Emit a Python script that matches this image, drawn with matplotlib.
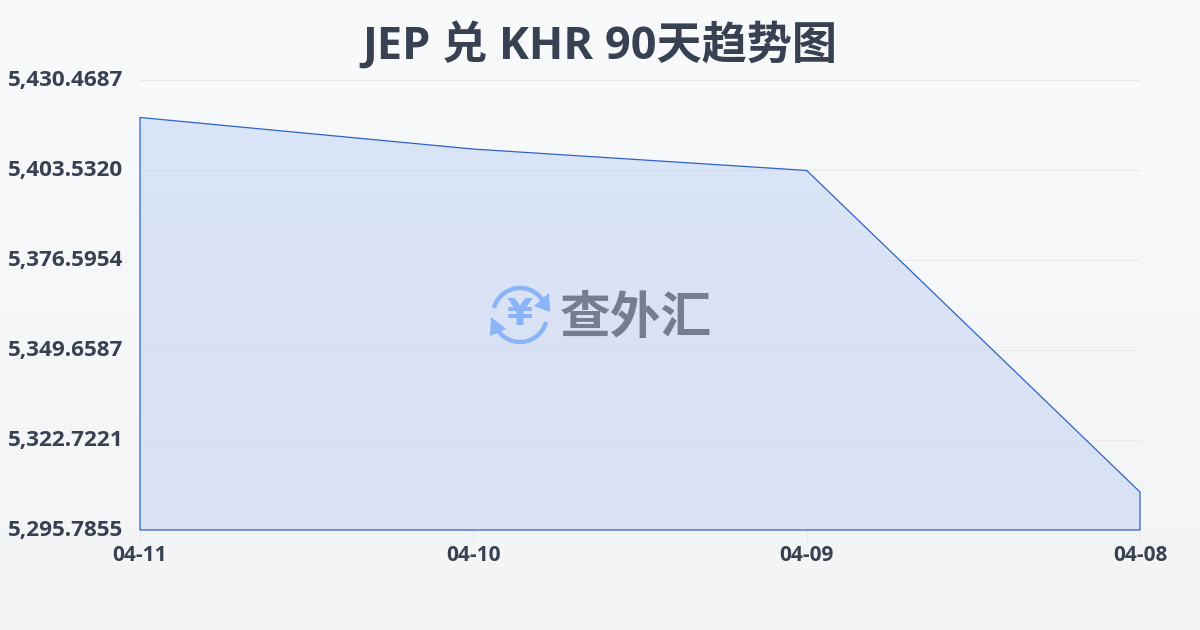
import matplotlib
matplotlib.use('Agg')
import matplotlib.pyplot as plt
import numpy as np
from matplotlib.patches import Arc, Polygon

plt.rcParams['font.family'] = ['Open Sans', 'Noto Sans CJK SC', 'DejaVu Sans']

dates = ['04-11', '04-10', '04-09', '04-08']
rates = [5419.25, 5409.80, 5403.40, 5307.15]
y_ticks = [5295.7855, 5322.7221, 5349.6587, 5376.5954, 5403.5320, 5430.4687]

text_col = '#374151'
line_col = '#2f62c8'
grid_col = '#e7e9ed'

fig = plt.figure(figsize=(12, 6.3), dpi=100)

# page background, light vertical gradient
bg = fig.add_axes([0, 0, 1, 1], zorder=0)
bg.imshow(np.linspace(0, 1, 256).reshape(-1, 1), aspect='auto', extent=[0, 1, 0, 1],
          cmap=matplotlib.colors.LinearSegmentedColormap.from_list('bg', ['#f9fafb', '#f3f4f6']))
bg.axis('off')

ax = fig.add_axes([140 / 1200, 1 - 530 / 630, 1000 / 1200, 450 / 630], zorder=1)
ax.patch.set_alpha(0)
x = np.arange(len(dates))
ax.set_xlim(0, len(dates) - 1)
ax.set_ylim(y_ticks[0], y_ticks[-1])

ax.set_yticks(y_ticks)
ax.set_yticklabels([f'{v:,.4f}' for v in y_ticks])
ax.set_xticks(x)
ax.set_xticklabels(dates)
ax.grid(axis='y', color=grid_col, lw=0.8)
ax.set_axisbelow(True)
for s in ax.spines.values():
    s.set_visible(False)
ax.tick_params(axis='y', length=0, pad=12, labelsize=16.2, labelcolor=text_col)
ax.tick_params(axis='x', length=9, width=0.8, color=grid_col, pad=2, labelsize=15, labelcolor=text_col)
for lab in ax.get_yticklabels() + ax.get_xticklabels():
    lab.set_fontweight('bold')
for lab in ax.get_yticklabels():
    lab.set_transform(lab.get_transform() + matplotlib.transforms.ScaledTranslation(0, 2 / 100, fig.dpi_scale_trans))

# area with gradient fill
verts = [(x[0], y_ticks[0])] + list(zip(x, rates)) + [(x[-1], y_ticks[0])]
grad = ax.imshow(np.linspace(0, 1, 256).reshape(-1, 1), aspect='auto',
                 extent=[x[0], x[-1], y_ticks[0], y_ticks[-1]], origin='upper', zorder=1.5,
                 cmap=matplotlib.colors.LinearSegmentedColormap.from_list('area', ['#d9e5f7', '#dae1f4']))
clip = Polygon(verts, closed=True, transform=ax.transData, fc='none', ec='none')
ax.add_patch(clip)
grad.set_clip_path(clip)
ax.set_xlim(0, len(dates) - 1)
ax.set_ylim(y_ticks[0], y_ticks[-1])
ax.add_patch(Polygon(verts, closed=True, fc='none', ec=line_col, lw=0.9, zorder=3, clip_on=False))
# gridlines show faintly through the fill
for v in y_ticks[1:-1]:
    ax.plot([x[0], x[-1]], [v, v], color='#d3dcef', lw=0.7, zorder=2, clip_path=clip)

fig.text(0.5, 1 - 47 / 630, 'JEP 兑 KHR 90天趋势图', ha='center', va='center',
         fontsize=32.5, fontweight='bold', color=text_col)

# watermark logo in pixel coordinates
wm = fig.add_axes([0, 0, 1, 1], zorder=5)
wm.set_xlim(0, 1200)
wm.set_ylim(630, 0)
wm.axis('off')
logo_col = '#8ab4f8'
wm.add_patch(Arc((520, 315), 54, 54, theta1=195, theta2=325, color=logo_col, lw=3.2))
wm.add_patch(Arc((520, 315), 54, 54, theta1=15, theta2=145, color=logo_col, lw=3.2))
wm.add_patch(Polygon([(549, 293), (550, 312), (534, 306)], closed=True, fc=logo_col, ec='none'))
wm.add_patch(Polygon([(491, 317), (490, 336), (506, 329)], closed=True, fc=logo_col, ec='none'))
wm.text(520, 315, '¥', ha='center', va='center', fontsize=27, fontweight='bold', color=logo_col,
        family='DejaVu Sans')
wm.text(636, 319, '查外汇', ha='center', va='center', fontsize=36.5, fontweight='bold', color='#757e90',
        family='Noto Sans CJK SC')

fig.savefig('out.png', dpi=100)
